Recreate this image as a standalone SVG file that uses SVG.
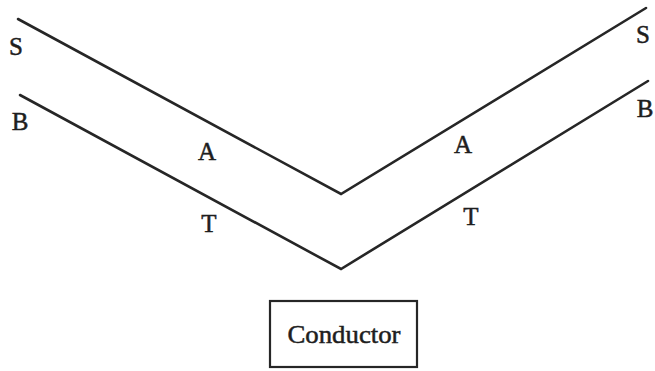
<svg xmlns="http://www.w3.org/2000/svg" width="655" height="371" viewBox="0 0 655 371">
<style>
.ln{fill:none;stroke:#262626;stroke-width:2.6;stroke-linejoin:miter;stroke-linecap:round}
.lb{font-family:"Liberation Serif","DejaVu Serif",serif;font-size:25px;fill:#1e1e1e;stroke:#1e1e1e;stroke-width:0.5;text-anchor:middle}
.box{fill:none;stroke:#262626;stroke-width:2.2}
</style>
<rect width="655" height="371" fill="#ffffff"/>
<g id="connectors">
<polyline id="upper" class="ln" points="18,19 341,194 646,8"/>
<polyline id="lower" class="ln" points="20,95 341,269 648,81"/>
</g>
<g id="labels">
<text class="lb" x="16" y="55">S</text>
<text class="lb" x="20" y="130">B</text>
<text class="lb" x="207" y="160">A</text>
<text class="lb" x="209" y="232">T</text>
<text class="lb" x="463" y="153">A</text>
<text class="lb" x="471" y="225">T</text>
<text class="lb" x="643" y="43">S</text>
<text class="lb" x="645" y="117">B</text>
</g>
<g id="conductor">
<rect class="box" x="270" y="301" width="147" height="66"/>
<text class="lb" x="344" y="343" textLength="113" lengthAdjust="spacingAndGlyphs">Conductor</text>
</g>
</svg>
